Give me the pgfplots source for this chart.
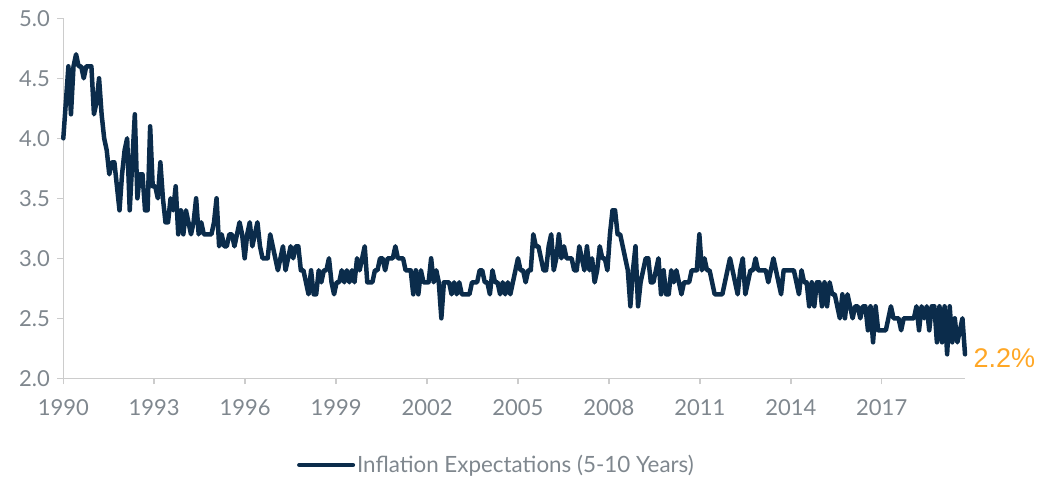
\documentclass[border=0pt]{standalone}
\usepackage{fontspec}
\setmainfont{Lato}
\newfontfamily\arialfont{Liberation Sans}
\usepackage{pgfplots}
\pgfplotsset{compat=1.18}
\usepackage{pgfplotstable}
\definecolor{navy}{HTML}{0B2C4B}
\definecolor{tickgray}{HTML}{7F878E}
\definecolor{axisgray}{HTML}{CCCCCC}
\definecolor{orangelab}{HTML}{FFA726}

\pgfplotstableread{
m v
0 4.0
1 4.3
2 4.6
3 4.2
4 4.6
5 4.7
6 4.6
7 4.6
8 4.5
9 4.6
10 4.6
11 4.6
12 4.2
13 4.3
14 4.5
15 4.2
16 4.0
17 3.9
18 3.7
19 3.8
20 3.8
21 3.6
22 3.4
23 3.7
24 3.9
25 4.0
26 3.4
27 3.8
28 4.2
29 3.5
30 3.7
31 3.7
32 3.4
33 3.4
34 4.1
35 3.6
36 3.6
37 3.5
38 3.8
39 3.5
40 3.3
41 3.3
42 3.5
43 3.4
44 3.6
45 3.2
46 3.4
47 3.2
48 3.4
49 3.3
50 3.2
51 3.3
52 3.5
53 3.2
54 3.3
55 3.2
56 3.2
57 3.2
58 3.2
59 3.3
60 3.5
61 3.1
62 3.2
63 3.1
64 3.1
65 3.2
66 3.2
67 3.1
68 3.2
69 3.3
70 3.2
71 3.0
72 3.2
73 3.3
74 3.1
75 3.2
76 3.3
77 3.1
78 3.0
79 3.0
80 3.0
81 3.2
82 3.1
83 3.0
84 2.9
85 3.0
86 3.1
87 2.9
88 3.0
89 3.1
90 3.0
91 3.1
92 3.1
93 2.9
94 2.9
95 2.8
96 2.7
97 2.9
98 2.7
99 2.7
100 2.9
101 2.8
102 2.9
103 2.9
104 3.0
105 2.8
106 2.7
107 2.8
108 2.8
109 2.9
110 2.8
111 2.9
112 2.8
113 2.9
114 2.8
115 3.0
116 2.9
117 3.0
118 3.1
119 2.8
120 2.8
121 2.8
122 2.9
123 2.9
124 3.0
125 3.0
126 2.9
127 3.0
128 3.0
129 3.0
130 3.1
131 3.0
132 3.0
133 3.0
134 2.9
135 2.9
136 2.9
137 2.7
138 2.9
139 2.7
140 2.9
141 2.8
142 2.8
143 2.8
144 3.0
145 2.8
146 2.9
147 2.8
148 2.5
149 2.8
150 2.8
151 2.8
152 2.7
153 2.8
154 2.7
155 2.8
156 2.7
157 2.7
158 2.7
159 2.7
160 2.8
161 2.8
162 2.8
163 2.9
164 2.9
165 2.8
166 2.8
167 2.7
168 2.9
169 2.8
170 2.8
171 2.7
172 2.8
173 2.7
174 2.8
175 2.7
176 2.8
177 2.9
178 3.0
179 2.9
180 2.9
181 2.8
182 2.9
183 2.9
184 3.2
185 3.1
186 3.1
187 3.0
188 2.9
189 2.9
190 3.1
191 3.2
192 2.9
193 3.0
194 3.2
195 3.0
196 3.1
197 3.0
198 3.0
199 3.0
200 2.9
201 2.9
202 3.1
203 3.0
204 2.9
205 3.1
206 2.9
207 3.0
208 2.8
209 2.9
210 3.1
211 3.0
212 3.0
213 2.9
214 3.2
215 3.4
216 3.4
217 3.2
218 3.2
219 3.1
220 3.0
221 2.9
222 2.6
223 2.9
224 3.1
225 2.6
226 2.8
227 2.9
228 3.0
229 3.0
230 2.8
231 2.8
232 2.9
233 3.0
234 2.7
235 2.9
236 2.7
237 2.7
238 2.9
239 2.8
240 2.9
241 2.8
242 2.7
243 2.8
244 2.8
245 2.8
246 2.9
247 2.9
248 2.9
249 3.2
250 2.9
251 3.0
252 2.9
253 2.9
254 2.8
255 2.7
256 2.7
257 2.7
258 2.7
259 2.8
260 2.9
261 3.0
262 2.9
263 2.8
264 2.7
265 2.9
266 3.0
267 2.7
268 2.8
269 2.9
270 2.9
271 3.0
272 2.9
273 2.9
274 2.9
275 2.9
276 2.8
277 2.9
278 3.0
279 2.9
280 2.8
281 2.7
282 2.9
283 2.9
284 2.9
285 2.9
286 2.9
287 2.8
288 2.7
289 2.9
290 2.8
291 2.8
292 2.6
293 2.8
294 2.6
295 2.8
296 2.8
297 2.6
298 2.8
299 2.6
300 2.8
301 2.7
302 2.7
303 2.6
304 2.5
305 2.7
306 2.5
307 2.7
308 2.6
309 2.5
310 2.6
311 2.6
312 2.5
313 2.6
314 2.6
315 2.4
316 2.6
317 2.3
318 2.6
319 2.4
320 2.4
321 2.4
322 2.4
323 2.5
324 2.6
325 2.5
326 2.5
327 2.5
328 2.4
329 2.5
330 2.5
331 2.5
332 2.5
333 2.5
334 2.6
335 2.4
336 2.6
337 2.5
338 2.6
339 2.4
340 2.6
341 2.6
342 2.3
343 2.6
344 2.3
345 2.6
346 2.2
347 2.6
348 2.3
349 2.5
350 2.3
351 2.4
352 2.5
353 2.2
}\infl

\begin{document}
\begin{tikzpicture}
\useasboundingbox (-63.3pt,-99.7pt) rectangle (974.7pt,378.3pt);
\begin{axis}[
  at={(0,0)}, anchor=south west,
  scale only axis, width=901.7pt, height=360pt,
  xmin=0, xmax=353, ymin=2, ymax=5,
  axis lines*=left,
  axis line style={axisgray, line width=1.5pt},
  tick style={axisgray, line width=1.5pt},
  tick align=outside, major tick length=6pt,
  xtick={0,35.6,71.2,106.8,142.4,178,213.6,249.2,284.8,320.4},
  xticklabels={1990,1993,1996,1999,2002,2005,2008,2011,2014,2017},
  ytick={2,2.5,3,3.5,4,4.5,5},
  yticklabel style={xshift=-4pt, /pgf/number format/.cd, fixed, fixed zerofill, precision=1},
  xticklabel style={yshift=-12pt},
  /pgf/number format/assume math mode=true,
  ticklabel style={font=\fontsize{22}{24}\selectfont, text=tickgray},
  legend style={at={(0.4804,-0.2408)}, anchor=center, draw=none, fill=none,
    font=\fontsize{22.4}{24}\selectfont, text=tickgray},
  legend image code/.code={\draw[#1, line width=4pt, line cap=round] (0pt,0pt) -- (54pt,0pt);},
  clip=false,
]
\addplot[navy, line width=4.5pt, line join=round, line cap=round] table[x=m,y=v]{\infl};
\addlegendentry{Inflation Expectations (5-10 Years)}
\node[anchor=west, text=orangelab, font=\fontsize{27}{29}\selectfont\arialfont, xshift=5pt] at (axis cs:353,2.17) {2.2\%};
\end{axis}
\end{tikzpicture}
\end{document}
